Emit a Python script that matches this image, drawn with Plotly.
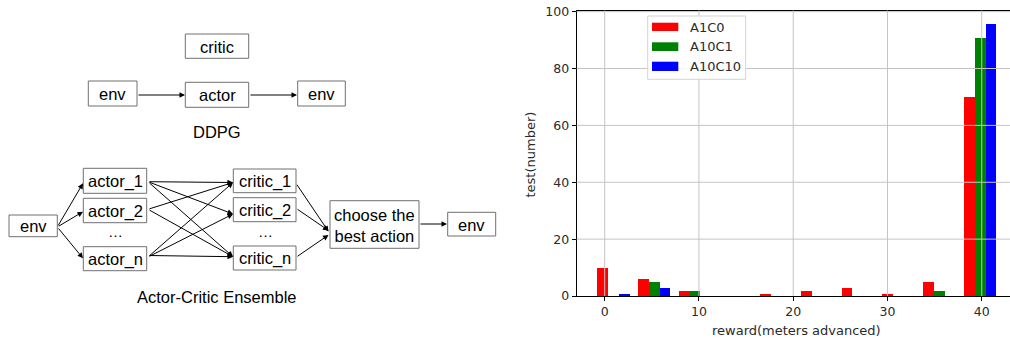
import plotly.graph_objects as go

# ---------------- data ----------------
series_names = ["A1C0", "A10C1", "A10C10"]
series_colors = ["#ff0000", "#008000", "#0000ff"]
bin_edges = [-1.28, 3.04, 7.37, 11.69, 16.02, 20.34, 24.66, 28.99, 33.31, 37.64, 41.96]
counts_a1c0 = [10, 6, 2, 0, 1, 2, 3, 1, 5, 70]
counts_a10c1 = [0, 5, 2, 0, 0, 0, 0, 0, 2, 91]
counts_a10c10 = [1, 3, 0, 0, 0, 0, 0, 0, 0, 96]
x_ticks = [0, 10, 20, 30, 40]
y_ticks = [0, 20, 40, 60, 80, 100]
x_title = "reward(meters advanced)"
y_title = "test(number)"

box_labels = ["critic", "env", "actor", "env",
              "env", "actor_1", "actor_2", "actor_n",
              "critic_1", "critic_2", "critic_n",
              "choose the<br>best action", "env"]
caption_top = "DDPG"
caption_bottom = "Actor-Critic Ensemble"

# ---------------- layout helpers ----------------
W, H = 1010, 339
def px(x):
    return x / W
def py(y):
    return 1 - y / H

fig = go.Figure()

all_counts = [counts_a1c0, counts_a10c1, counts_a10c10]
nser = len(all_counts)
for i, (name, col, cnt) in enumerate(zip(series_names, series_colors, all_counts)):
    xs, ws = [], []
    for k in range(len(cnt)):
        bw = bin_edges[k + 1] - bin_edges[k]
        sub = 0.8 * bw / nser
        xs.append(bin_edges[k] + 0.1 * bw + (i + 0.5) * sub)
        ws.append(sub)
    fig.add_trace(go.Bar(x=xs, y=cnt, width=ws, name=name,
                         marker=dict(color=col, line=dict(width=0)),
                         showlegend=False, hoverinfo="skip"))

tick_font = dict(family="DejaVu Sans", size=12.5, color="#2a2a2a")
title_font = dict(family="DejaVu Sans", size=13, color="#2a2a2a")

fig.update_layout(
    width=W, height=H, margin=dict(l=0, r=0, t=0, b=0, pad=0, autoexpand=False),
    paper_bgcolor="white", plot_bgcolor="white",
    barmode="overlay", bargap=0,
    xaxis=dict(domain=[576.7 / W, 1], range=[-2.97, 43.0], automargin=False,
               tickvals=x_ticks, ticks="outside", ticklen=4, tickcolor="black",
               showline=True, linecolor="black", linewidth=1, mirror=True,
               showgrid=False, zeroline=False, tickfont=tick_font),
    yaxis=dict(domain=[py(296), py(10.5)], range=[0, 100.4], automargin=False,
               tickvals=y_ticks, ticks="outside", ticklen=4, tickcolor="black",
               showline=True, linecolor="black", linewidth=1, mirror=False,
               showgrid=False, zeroline=False, tickfont=tick_font),
    showlegend=False,
)

shapes = []
annotations = []

# grid lines above bars (matplotlib style)
for t in x_ticks:
    shapes.append(dict(type="line", xref="x", yref="y domain", x0=t, x1=t, y0=0, y1=1,
                       line=dict(color="#c4c4c4", width=1), layer="above"))
for t in y_ticks[1:]:
    shapes.append(dict(type="line", xref="x domain", yref="y", x0=0, x1=1, y0=t, y1=t,
                       line=dict(color="#c4c4c4", width=1), layer="above"))

def text_ann(x, y, text, font, **kw):
    d = dict(x=px(x), y=py(y), xref="paper", yref="paper", text=text,
             showarrow=False, font=font, xanchor="center", yanchor="middle")
    d.update(kw)
    return d

# axis titles
annotations.append(text_ann(529.5, 155, y_title, title_font, textangle=-90))
annotations.append(text_ann(796, 330, x_title, title_font))

# legend
shapes.append(dict(type="rect", xref="paper", yref="paper",
                   x0=px(647.7), x1=px(745.7), y0=py(79.3), y1=py(16),
                   fillcolor="rgba(255,255,255,0.85)", line=dict(color="#d4d4d4", width=1),
                   layer="above"))
leg_rows = [(22.7, 31, 27), (42.3, 51, 46.7), (61.7, 71, 66.3)]
for (y0, y1, yt), name, col in zip(leg_rows, series_names, series_colors):
    shapes.append(dict(type="rect", xref="paper", yref="paper",
                       x0=px(652), x1=px(678.3), y0=py(y1), y1=py(y0),
                       fillcolor=col, line=dict(width=0), layer="above"))
    annotations.append(text_ann(688, yt, name, title_font, xanchor="left"))

# ---------------- diagram ----------------
box_geo = [
    (185.3, 34, 248.7, 58.3),
    (88.3, 81, 137, 106),
    (185.3, 82.3, 248.7, 107.3),
    (297.7, 81, 345.3, 106),
    (9, 215, 57.3, 236.7),
    (83.3, 168.3, 146.7, 193.3),
    (83.3, 198.3, 146.7, 222.7),
    (83.3, 246.7, 146.7, 270.7),
    (233.3, 169, 296, 192.7),
    (233.3, 197.7, 296, 221.7),
    (233.3, 246, 296, 270),
    (330, 200.7, 419, 248.3),
    (447.7, 212.3, 495.7, 236),
]
dfont = dict(family="Liberation Sans, Arial, Helvetica", size=16.5, color="black")
for lab, (x0, y0, x1, y1) in zip(box_labels, box_geo):
    shapes.append(dict(type="rect", xref="paper", yref="paper",
                       x0=px(x0), x1=px(x1), y0=py(y1), y1=py(y0),
                       line=dict(color="#707070", width=1), fillcolor="white", layer="above"))
    annotations.append(text_ann((x0 + x1) / 2, (y0 + y1) / 2 + 0.5, lab, dfont))

annotations.append(text_ann(216.7, 131.7, caption_top, dfont))
annotations.append(text_ann(216.7, 296.7, caption_bottom, dfont))
for xe in [115, 265]:
    annotations.append(text_ann(xe, 231.5, "…", dict(family="Liberation Sans, Arial", size=15,
                                                     color="black")))

arrows = [
    ((137, 95), (185, 95)),
    ((249, 95), (297, 95)),
    ((57.3, 227), (83, 183.3)),
    ((57.3, 227), (83, 211.7)),
    ((57.3, 227), (83, 258.3)),
    ((148, 255.5), (233, 256.7)),
    ((148, 181.7), (233, 182.5)),
    ((148, 181.7), (233, 214)),
    ((148, 181.7), (233, 256.7)),
    ((148, 209.3), (233, 182.5)),
    ((148, 209.3), (233, 256.7)),
    ((148, 257), (233, 182.5)),
    ((148, 257), (233, 214)),
    ((296, 183.3), (328.5, 231.5)),
    ((296, 208.3), (328.5, 230.5)),
    ((296, 257.3), (328.5, 235)),
    ((419, 224), (447, 224)),
]
for (tx, ty), (hx, hy) in arrows:
    annotations.append(dict(x=px(hx), y=py(hy), xref="paper", yref="paper",
                            ax=tx - hx, ay=ty - hy, axref="pixel", ayref="pixel",
                            text="", showarrow=True, arrowhead=2, arrowsize=1.1,
                            arrowwidth=1, arrowcolor="black", standoff=0))

fig.update_layout(shapes=shapes, annotations=annotations)
fig.write_html("out.html", config={"displayModeBar": False},
               post_script="document.body.style.margin='0';document.body.style.padding='0';"
                           "document.body.style.overflow='hidden';")
